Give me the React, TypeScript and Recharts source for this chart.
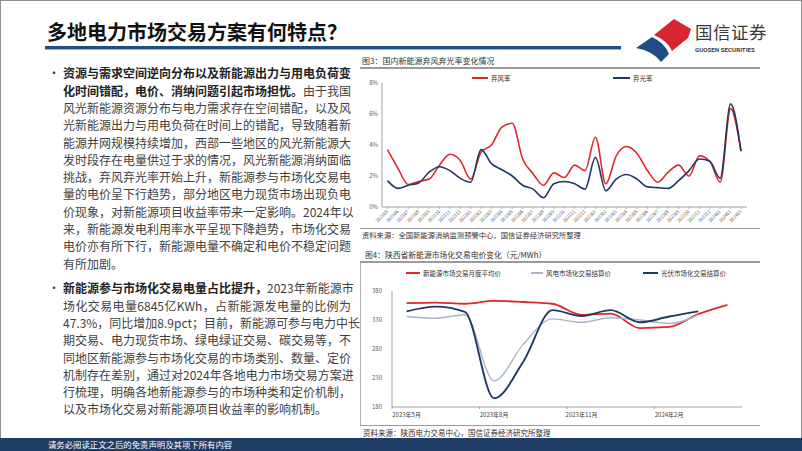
import React from 'react';
import { LineChart, Line, XAxis, YAxis, Legend } from 'recharts';

// ---------- Chart 1 data: 国内新能源弃风弃光率 (%) ----------
const months1 = [
  '202105', '202106', '202107', '202108', '202109', '202110', '202111', '202112',
  '202201', '202202', '202203', '202204', '202205', '202206', '202207', '202208',
  '202209', '202210', '202211', '202212', '202301', '202302', '202303', '202304',
  '202305', '202306', '202307', '202308', '202309', '202310', '202311', '202312',
  '202401', '202402', '202403',
];
const windCurtail = [
  3.7, 2.5, 1.45, 1.65, 1.8, 2.7, 3.4, 3.0, 1.8, 3.55, 4.0, 5.15, 5.4, 3.1, 2.15, 1.4,
  2.2, 1.9, 2.7, 2.35, 4.5, 1.5, 3.3, 3.9, 3.45, 2.35, 1.6, 2.25, 2.7, 2.0, 3.3, 2.95,
  1.6, 6.35, 3.6,
];
const solarCurtail = [
  1.7, 1.2, 1.4, 1.55, 2.25, 2.6, 2.35, 1.85, 1.6, 3.7, 2.8, 2.4, 2.0, 1.4, 1.15, 0.6,
  1.5, 1.65, 1.5, 1.15, 3.2, 1.05, 1.8, 2.1, 1.8, 1.3, 1.25, 1.2, 1.7, 2.35, 3.1, 2.95,
  1.85, 6.65, 3.6,
];
const yTicks1 = [0, 2, 4, 6, 8];

// ---------- Chart 2 data: 陕西省新能源市场化交易电价 (元/MWh) ----------
const months2 = [
  '2023年5月', '2023年6月', '2023年7月', '2023年8月', '2023年9月', '2023年10月',
  '2023年11月', '2023年12月', '2024年1月', '2024年2月', '2024年3月', '2024年4月',
];
const avgPrice = [359, 360, 358, 363, 361, 358, 339, 341, 316, 318, 340, 356];
const windPrice = [336, 333, 339, 225, 288, 332, 326, 334, 330, 324, 339, null];
const solarPrice = [345, 353, 344, 195, 258, 347, 337, 347, 326, 336, 345, null];
const yTicks2 = [180, 230, 280, 330, 380];

// ---------- Text ----------
const titleText = '多地电力市场交易方案有何特点？';
type Seg = [string, boolean];
const para1: Seg[][] = [
  [['资源与需求空间逆向分布以及新能源出力与用电负荷变', true]],
  [['化时间错配，电价、消纳问题引起市场担忧。', true], ['由于我国', false]],
  [['风光新能源资源分布与电力需求存在空间错配，以及风', false]],
  [['光新能源出力与用电负荷在时间上的错配，导致随着新', false]],
  [['能源并网规模持续增加，西部一些地区的风光新能源大', false]],
  [['发时段存在电量供过于求的情况，风光新能源消纳面临', false]],
  [['挑战，弃风弃光率开始上升，新能源参与市场化交易电', false]],
  [['量的电价呈下行趋势，部分地区电力现货市场出现负电', false]],
  [['价现象，对新能源项目收益率带来一定影响。2024年以', false]],
  [['来，新能源发电利用率水平呈现下降趋势，市场化交易', false]],
  [['电价亦有所下行，新能源电量不确定和电价不稳定问题', false]],
  [['有所加剧。', false]],
];
const para2: Seg[][] = [
  [['新能源参与市场化交易电量占比提升，', true], ['2023年新能源市', false]],
  [['场化交易电量6845亿KWh，占新能源发电量的比例为', false]],
  [['47.3%，同比增加8.9pct；目前，新能源可参与电力中长', false]],
  [['期交易、电力现货市场、绿电绿证交易、碳交易等，不', false]],
  [['同地区新能源参与市场化交易的市场类别、数量、定价', false]],
  [['机制存在差别，通过对2024年各地电力市场交易方案进', false]],
  [['行梳理，明确各地新能源参与的市场种类和定价机制，', false]],
  [['以及市场化交易对新能源项目收益率的影响机制。', false]],
];

const FONT = '"Noto Sans CJK SC", "Noto Sans", sans-serif';
const RED = '#E3262C';
const NAVY = '#1F3A60';
const GREY_LINE = '#A8B6C8';

const data1 = months1.map((m, i) => ({ m, wind: windCurtail[i], solar: solarCurtail[i] }));
const data2 = months2.map((m, i) => ({ m, avg: avgPrice[i], wind: windPrice[i], solar: solarPrice[i] }));

const RotTick = (props: any) => {
  const { x, y, payload } = props;
  return (
    <g transform={`translate(${x},${y}) rotate(-45)`}>
      <text x={0} y={0} textAnchor="end" dominantBaseline="middle" fontSize={4.6} fill="#595959" fontFamily={FONT}>
        {payload.value}
      </text>
    </g>
  );
};

const Tick2 = (props: any) => {
  const { x, y, payload } = props;
  return (
    <g>
      <line x1={x - 14.58} x2={x - 14.58} y1={y - 4} y2={y - 2} stroke="#8C8C8C" strokeWidth={0.8} />
      <text x={x} y={y + 6} textAnchor="middle" fontSize={6} fill="#404040" fontFamily={FONT}>
        {payload.value}
      </text>
    </g>
  );
};

const legendItem = (left: number, color: string, label: string, w: number, sw: number) => (
  <div key={label} style={{ position: 'absolute', left, top: 0, display: 'flex', alignItems: 'center', height: 10 }}>
    <div style={{ width: w, height: sw, background: color }} />
    <span style={{ marginLeft: 3, fontSize: 6.5, color: '#333', fontFamily: FONT, whiteSpace: 'nowrap' }}>{label}</span>
  </div>
);

const Legend1 = () => (
  <div style={{ position: 'relative', width: 400, height: 10 }}>
    {legendItem(112, RED, '弃风率', 16, 2)}
    {legendItem(253, NAVY, '弃光率', 17, 2)}
  </div>
);

const Legend2 = () => (
  <div style={{ position: 'relative', width: 400, height: 10 }}>
    {legendItem(46, RED, '新能源市场交易月度平均价', 14, 2)}
    {legendItem(171, GREY_LINE, '风电市场化交易结算价', 12, 1.5)}
    {legendItem(283, NAVY, '光伏市场化交易结算价', 15, 2)}
  </div>
);

const renderLines = (lines: Seg[][], top: number, justifyLast: boolean) =>
  lines.map((segs, i) => {
    const isLast = i === lines.length - 1;
    return (
      <div
        key={i}
        style={{
          position: 'absolute',
          left: 63,
          top: top + i * 17.3,
          width: 288,
          height: 17.3,
          lineHeight: '17.3px',
          fontSize: 12,
          whiteSpace: 'nowrap',
          textAlign: isLast && !justifyLast ? 'left' : 'justify',
          textAlignLast: isLast && !justifyLast ? 'left' : 'justify',
          color: '#3F3F3F',
          fontFamily: FONT,
        } as React.CSSProperties}
      >
        {segs.map(([t, b], j) => (
          <span key={j} style={{ fontWeight: b ? 700 : 400, color: b ? '#222' : '#3F3F3F' }}>{t}</span>
        ))}
      </div>
    );
  });

export default function App() {
  return (
    <div
      lang="zh-CN"
      style={{
        position: 'absolute',
        left: 0,
        top: 0,
        width: 802,
        height: 451,
        background: '#fff',
        overflow: 'hidden',
        fontFamily: FONT,
      }}
    >
      {/* slide frame */}
      <div style={{ position: 'absolute', left: 0, top: 0, width: 800, height: 449, border: '1px solid #8E8E8E' }} />

      {/* title */}
      <div style={{ position: 'absolute', left: 47, top: 18, fontSize: 20, fontWeight: 700, color: '#111', whiteSpace: 'nowrap', lineHeight: '28px' }}>
        {titleText}
      </div>
      <div style={{ position: 'absolute', left: 45, top: 46, width: 576, height: 3, background: '#1F4E86' }} />
      <div style={{ position: 'absolute', left: 45, top: 49, width: 576, height: 1, background: '#9DB3CC' }} />

      {/* logo */}
      <svg style={{ position: 'absolute', left: 0, top: 0 }} width={802} height={70}>
        <path d="M654,35 L674,19 L691,29 L688,38 L672,51 Q668,41 654,35 Z" fill="#D7262F" />
        <path d="M636,48 L652,37 Q665,43 669,54 L661,62 Q653,51 636,48 Z" fill="#1F4E86" />
      </svg>
      <div style={{ position: 'absolute', left: 695, top: 19, fontSize: 17.5, color: '#3A3A3A', letterSpacing: 0.5, whiteSpace: 'nowrap', lineHeight: '26px' }}>
        国信证券
      </div>
      <div style={{ position: 'absolute', left: 695, top: 46, fontSize: 6.2, fontWeight: 700, color: '#3A3A3A', whiteSpace: 'nowrap', fontFamily: 'Roboto, sans-serif', lineHeight: '8px' }}>
        GUOSEN SECURITIES
      </div>

      {/* body text */}
      <div style={{ position: 'absolute', left: 48, top: 64.3, fontSize: 12, lineHeight: '17.3px', color: '#3F3F3F' }}>•</div>
      {renderLines(para1, 64.3, false)}
      <div style={{ position: 'absolute', left: 48, top: 279.3, fontSize: 12, lineHeight: '17.3px', color: '#3F3F3F' }}>•</div>
      {renderLines(para2, 279.3, false)}

      {/* chart 1 header */}
      <div style={{ position: 'absolute', left: 362, top: 55, fontSize: 8, color: '#333', whiteSpace: 'nowrap', lineHeight: '11px' }}>
        图3：国内新能源弃风弃光率变化情况
      </div>
      <div style={{ position: 'absolute', left: 360, top: 67, width: 400, height: 1.5, background: '#9A9A9A' }} />

      {/* chart 1 */}
      <div style={{ position: 'absolute', left: 360, top: 70, width: 400, height: 160 }}>
        <LineChart width={400} height={160} data={data1} margin={{ top: 13, right: 13, bottom: 0, left: 0 }}>
          <XAxis
            dataKey="m"
            interval={0}
            height={23}
            padding={{ left: 5.5, right: 6 }}
            axisLine={{ stroke: '#8C8C8C', strokeWidth: 0.8 }}
            tickLine={{ stroke: '#8C8C8C', strokeWidth: 0.6 }}
            tickSize={2}
            tickMargin={2}
            tick={<RotTick />}
          />
          <YAxis
            width={22}
            domain={[0, 8]}
            ticks={yTicks1}
            tickFormatter={(v: number) => `${v}%`}
            axisLine={{ stroke: '#8C8C8C', strokeWidth: 0.8 }}
            tickLine={false}
            tickSize={0}
            tickMargin={4}
            tick={{ fontSize: 6, fill: '#595959', fontFamily: FONT }}
          />
          <Legend
            layout="horizontal"
            verticalAlign="middle"
            align="center"
            wrapperStyle={{ position: 'absolute', top: 3, left: 0, width: 400, height: 10 }}
            content={() => <Legend1 />}
          />
          <Line type="monotone" dataKey="wind" name="弃风率" stroke={RED} strokeWidth={1.6} dot={false} activeDot={false} isAnimationActive={false} />
          <Line type="monotone" dataKey="solar" name="弃光率" stroke={NAVY} strokeWidth={1.6} dot={false} activeDot={false} isAnimationActive={false} />
        </LineChart>
      </div>

      {/* chart 1 footer */}
      <div style={{ position: 'absolute', left: 360, top: 228, width: 400, height: 1, background: '#9A9A9A' }} />
      <div style={{ position: 'absolute', left: 362, top: 230, fontSize: 7.3, color: '#333', whiteSpace: 'nowrap', lineHeight: '11px' }}>
        资料来源：全国新能源消纳监测预警中心，国信证券经济研究所整理
      </div>

      {/* chart 2 header */}
      <div style={{ position: 'absolute', left: 365, top: 248.5, fontSize: 7.8, color: '#333', whiteSpace: 'nowrap', lineHeight: '11px' }}>
        图4：陕西省新能源市场化交易电价变化（元/MWh）
      </div>
      <div style={{ position: 'absolute', left: 360, top: 261, width: 400, height: 1.5, background: '#9A9A9A' }} />
      <div style={{ position: 'absolute', left: 360, top: 262, width: 1, height: 163, background: '#B0B0B0' }} />

      {/* chart 2 */}
      <div style={{ position: 'absolute', left: 360, top: 262, width: 400, height: 160 }}>
        <LineChart width={400} height={160} data={data2} margin={{ top: 29, right: 18, bottom: 0, left: 0 }}>
          <XAxis
            dataKey="m"
            interval={2}
            height={15}
            padding={{ left: 14.58, right: 14.58 }}
            axisLine={{ stroke: '#8C8C8C', strokeWidth: 0.8 }}
            tickLine={false}
            tickSize={0}
            tickMargin={4}
            tick={<Tick2 />}
          />
          <YAxis
            width={32}
            domain={[180, 380]}
            ticks={yTicks2}
            axisLine={{ stroke: '#8C8C8C', strokeWidth: 0.8 }}
            tickLine={false}
            tickSize={0}
            tickMargin={10}
            tick={{ fontSize: 6, fill: '#595959', fontFamily: FONT }}
          />
          <Legend
            layout="horizontal"
            verticalAlign="middle"
            align="center"
            wrapperStyle={{ position: 'absolute', top: 6, left: 0, width: 400, height: 10 }}
            content={() => <Legend2 />}
          />
          <Line type="monotone" dataKey="avg" name="新能源市场交易月度平均价" stroke={RED} strokeWidth={1.8} dot={false} activeDot={false} isAnimationActive={false} />
          <Line type="monotone" dataKey="wind" name="风电市场化交易结算价" stroke={GREY_LINE} strokeWidth={1.4} dot={false} activeDot={false} isAnimationActive={false} />
          <Line type="monotone" dataKey="solar" name="光伏市场化交易结算价" stroke={NAVY} strokeWidth={1.9} dot={false} activeDot={false} isAnimationActive={false} />
        </LineChart>
      </div>

      {/* chart 2 footer */}
      <div style={{ position: 'absolute', left: 360, top: 425, width: 400, height: 1, background: '#9A9A9A' }} />
      <div style={{ position: 'absolute', left: 363, top: 426.5, fontSize: 7.5, color: '#333', whiteSpace: 'nowrap', lineHeight: '11px' }}>
        资料来源：陕西电力交易中心，国信证券经济研究所整理
      </div>

      {/* footer bar */}
      <div style={{ position: 'absolute', left: 0, top: 438, width: 802, height: 13, background: '#1F3C66' }} />
      <div style={{ position: 'absolute', left: 48, top: 438, fontSize: 8.4, color: '#fff', whiteSpace: 'nowrap', lineHeight: '13px' }}>
        请务必阅读正文之后的免责声明及其项下所有内容
      </div>
    </div>
  );
}
